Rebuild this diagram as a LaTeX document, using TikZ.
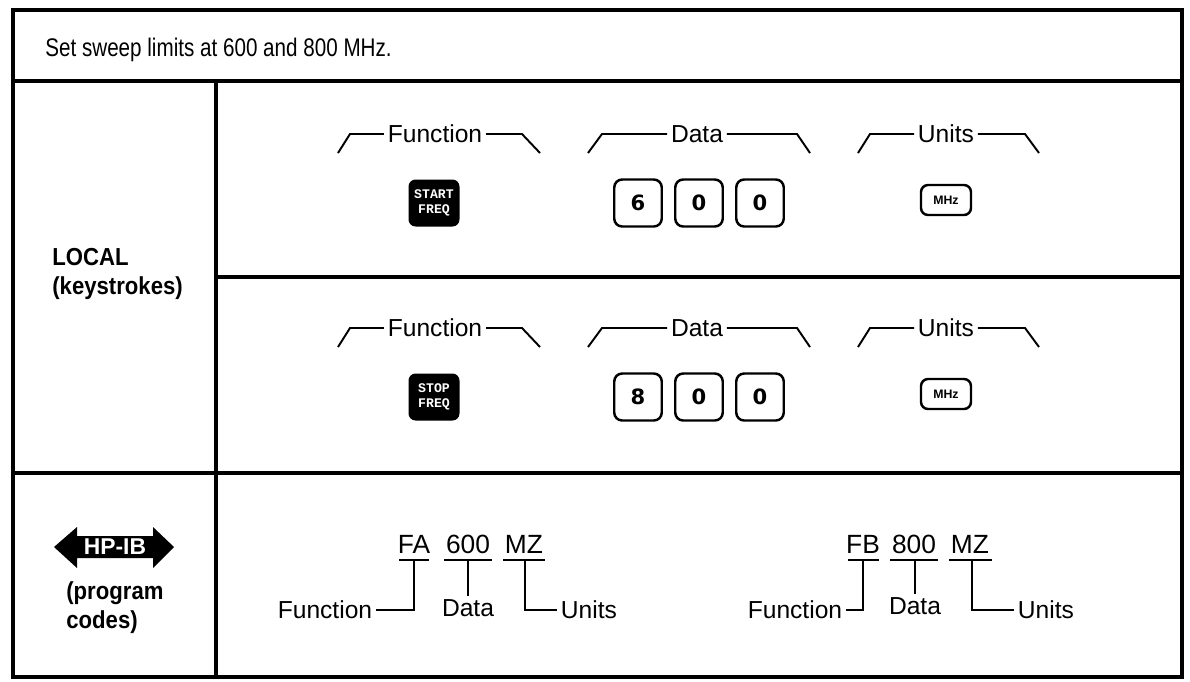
\documentclass[tikz,border=0pt]{standalone}
\usepackage{fontspec}
\setmainfont{Liberation Sans}
\newfontfamily\condfont{Liberation Sans}[FakeStretch=0.9]
\newfontfamily\narrowfont{Liberation Sans}[FakeStretch=0.81]
\newfontfamily\keyfont{Liberation Mono}
\newfontfamily\digitfont{DejaVu Sans}

\begin{document}
\begin{tikzpicture}[x=0.02cm, y=-0.02cm, every node/.style={font=\fontsize{14}{16.5}\selectfont}]
\tikzset{frame/.style={line width=2.4pt}, rule/.style={line width=1.9pt}, brk/.style={line width=1.1pt}, bar/.style={line width=1.5pt},
  lbl/.style={inner sep=2pt}, code/.style={anchor=base, inner sep=0pt, font=\fontsize{15}{15}\selectfont},
  fkey/.style={fill=black, text=white, rounded corners=4pt, minimum width=1.02cm, minimum height=0.94cm, align=center, inner sep=0pt, font=\keyfont\bfseries\fontsize{7.5}{8.5}\selectfont},
  dkey/.style={draw, line width=1.4pt, rounded corners=4.5pt, minimum width=0.95cm, minimum height=0.94cm, inner sep=0pt, font=\digitfont\bfseries\fontsize{12}{12}\selectfont},
  ukey/.style={draw, line width=1.4pt, rounded corners=4pt, minimum width=1.0cm, minimum height=0.6cm, inner sep=0pt, font=\bfseries\fontsize{7}{7}\selectfont},
  side/.style={anchor=north west, align=left, inner sep=0pt, font=\condfont\bfseries\fontsize{14}{16.5}\selectfont}}
\fill[white] (0,0) rectangle (1190,681); \useasboundingbox (0,0) rectangle (1190,681);
% table frame
\draw[frame] (13,10) rectangle (1182,677);
\draw[rule] (13,81) -- (1182,81); \draw[rule] (13,473) -- (1182,473);
\draw[rule] (216,81) -- (216,677); \draw[rule] (216,277) -- (1182,277);
\node[anchor=base west, inner sep=0pt, font=\narrowfont\fontsize{14.5}{17}\selectfont] (title) at (45,56) {Set sweep limits at 600 and 800 MHz.};
\node[side] (local) at (52,248) {LOCAL\\(keystrokes)};
% keystroke rows
\foreach \r/\y/\fk/\d in {1/0/{START\\FREQ}/6, 2/194/{STOP\\FREQ}/8} {
  \node[lbl] (fn\r) at (435,134+\y) {Function};
  \draw[brk] (338,153+\y) -- (350,134+\y) -- (fn\r.west) (fn\r.east) -- (522,134+\y) -- (540,153+\y);
  \node[lbl] (dt\r) at (697,134+\y) {Data};
  \draw[brk] (588,153+\y) -- (602,134+\y) -- (dt\r.west) (dt\r.east) -- (797,134+\y) -- (810,153+\y);
  \node[lbl] (un\r) at (946,134+\y) {Units};
  \draw[brk] (858,153+\y) -- (870,134+\y) -- (un\r.west) (un\r.east) -- (1025,134+\y) -- (1039,153+\y);
  \node[fkey] (fk\r) at (434,203+\y) {\fk};
  \node[dkey] (da\r) at (638,203+\y) {\d}; \node[dkey] (db\r) at (699,203+\y) {0}; \node[dkey] (dc\r) at (760,203+\y) {0};
  \node[ukey] (mhz\r) at (946,200+\y) {MHz};
}
% program codes
\fill (54,547) -- (77,527) -- (77,536) -- (153,536) -- (153,527) -- (174,547) -- (153,568) -- (153,558) -- (77,558) -- (77,568) -- cycle;
\node[text=white, inner sep=0pt, font=\bfseries\fontsize{13}{13}\selectfont] (hpib) at (115,547) {HP-IB};
\node[side] (prog) at (66,581) {(program\\codes)};
\node[code] (fa) at (414,553) {FA}; \node[code] (n600) at (468,553) {600}; \node[code] (mz1) at (524,553) {MZ};
\draw[bar] (399,560) -- (429,560) (444,560) -- (492,560) (503,560) -- (545,560);
\node[lbl, anchor=east] (fnA) at (376,610) {Function}; \node[lbl, anchor=north] (dtA) at (468,596) {Data}; \node[lbl, anchor=west] (unA) at (557,610) {Units};
\draw[bar] (414,560) |- (fnA); \draw[bar] (468,560) -- (dtA); \draw[bar] (525,560) |- (unA);
\node[code] (fb) at (863,553) {FB}; \node[code] (n800) at (914,553) {800}; \node[code] (mz2) at (970,553) {MZ};
\draw[bar] (848,560) -- (879,560) (890,560) -- (938,560) (949,560) -- (992,560);
\node[lbl, anchor=east] (fnB) at (846,610) {Function}; \node[lbl, anchor=north] (dtB) at (915,594) {Data}; \node[lbl, anchor=west] (unB) at (1014,610) {Units};
\draw[bar] (863,560) |- (fnB); \draw[bar] (915,560) -- (dtB); \draw[bar] (972,560) |- (unB);
\end{tikzpicture}
\end{document}
